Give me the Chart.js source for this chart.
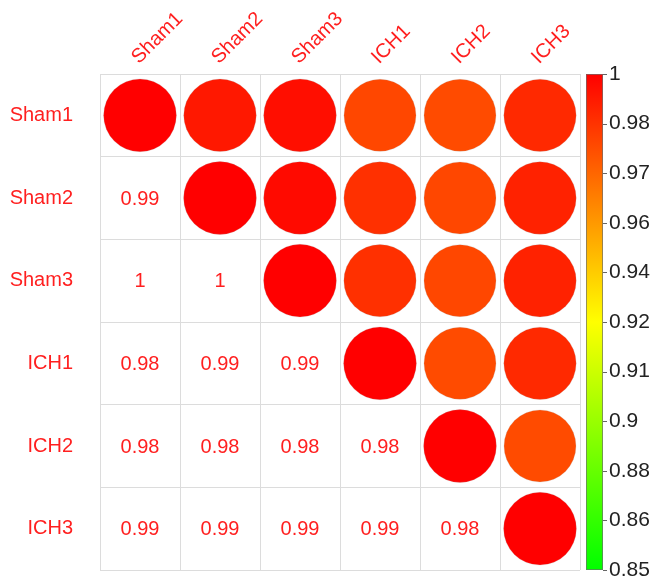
<!DOCTYPE html>
<html>
<head>
<meta charset="utf-8">
<script src="https://cdn.jsdelivr.net/npm/chart.js@4/dist/chart.umd.min.js"></script>
<style>
  html, body { margin: 0; padding: 0; background: #ffffff; }
  #wrap { width: 651px; height: 579px; }
</style>
</head>
<body>
<div id="wrap"><canvas id="c" width="651" height="579"></canvas></div>
<script>
// ---- data ----
const categories = ['Sham1', 'Sham2', 'Sham3', 'ICH1', 'ICH2', 'ICH3'];
const rSham1 = [1.000, 0.993, 0.996, 0.979, 0.978, 0.988];
const rSham2 = [0.993, 1.000, 0.997, 0.986, 0.979, 0.990];
const rSham3 = [0.996, 0.997, 1.000, 0.986, 0.979, 0.990];
const rICH1  = [0.979, 0.986, 0.986, 1.000, 0.978, 0.988];
const rICH2  = [0.978, 0.979, 0.979, 0.978, 1.000, 0.978];
const rICH3  = [0.988, 0.990, 0.990, 0.988, 0.978, 1.000];
const matrix = [rSham1, rSham2, rSham3, rICH1, rICH2, rICH3];
const colorMin = 0.85;
const colorMax = 1;
const colorbarLabels = ['0.85', '0.86', '0.88', '0.9', '0.91', '0.92', '0.94', '0.96', '0.97', '0.98', '1'];
const palette = ['#00ff00', '#ffff00', '#ff0000'];

// ---- helpers ----
function hexToRgb(h) {
  return [parseInt(h.slice(1, 3), 16), parseInt(h.slice(3, 5), 16), parseInt(h.slice(5, 7), 16)];
}
function colorFor(v) {
  let t = (v - colorMin) / (colorMax - colorMin);
  t = Math.max(0, Math.min(1, t));
  const seg = t * (palette.length - 1);
  const i = Math.min(palette.length - 2, Math.floor(seg));
  const f = seg - i;
  const a = hexToRgb(palette[i]), b = hexToRgb(palette[i + 1]);
  const c = a.map((x, k) => Math.round(x + (b[k] - x) * f));
  return 'rgb(' + c.join(',') + ')';
}
function fmt(v) { return String(Number(v.toFixed(2))); }

// upper triangle (incl. diagonal) as circles
const points = [];
for (let i = 0; i < categories.length; i++) {
  for (let j = i; j < categories.length; j++) {
    points.push({ x: categories[j], y: categories[i], v: matrix[i][j] });
  }
}

const FONT = '"Liberation Sans", Arial, sans-serif';
const TEXT_RED = '#ff1f1f';
const GRID = '#dcdcdc';

const lowerTextPlugin = {
  id: 'lowerText',
  afterDatasetsDraw(chart) {
    const ctx = chart.ctx, xs = chart.scales.x, ys = chart.scales.y;
    ctx.save();
    ctx.fillStyle = TEXT_RED;
    ctx.font = '20px ' + FONT;
    ctx.textAlign = 'center';
    ctx.textBaseline = 'middle';
    for (let i = 0; i < categories.length; i++) {
      for (let j = 0; j < i; j++) {
        ctx.fillText(fmt(matrix[i][j]), xs.getPixelForValue(j), ys.getPixelForValue(i) + 1);
      }
    }
    ctx.restore();
  }
};

const colorbarPlugin = {
  id: 'colorbar',
  afterDraw(chart) {
    const ctx = chart.ctx, cb = chart.scales.cb, area = chart.chartArea;
    const top = cb.getPixelForValue(colorbarLabels.length - 1);
    const bottom = cb.getPixelForValue(0);
    const left = area.right + 6, right = area.right + 23;
    const g = ctx.createLinearGradient(0, bottom, 0, top);
    palette.forEach((c, k) => g.addColorStop(k / (palette.length - 1), c));
    ctx.save();
    ctx.fillStyle = g;
    ctx.fillRect(left, top, right - left, bottom - top);
    ctx.strokeStyle = 'rgba(110,110,110,0.7)';
    ctx.lineWidth = 1;
    ctx.strokeRect(left + 0.5, top + 0.5, right - left - 1, bottom - top - 1);
    ctx.strokeStyle = '#666';
    ctx.beginPath();
    for (let k = 0; k < colorbarLabels.length; k++) {
      const y = Math.round(cb.getPixelForValue(k)) + 0.5;
      ctx.moveTo(right, y);
      ctx.lineTo(right + 4, y);
    }
    ctx.stroke();
    ctx.restore();
  }
};

new Chart(document.getElementById('c'), {
  type: 'scatter',
  data: {
    datasets: [{
      data: points,
      pointRadius: (c) => {
        const xs = c.chart.scales.x, ys = c.chart.scales.y;
        if (!xs || !ys || !c.raw) return 0;
        const cw = Math.abs(xs.getPixelForValue(1) - xs.getPixelForValue(0));
        const ch = Math.abs(ys.getPixelForValue(1) - ys.getPixelForValue(0));
        return Math.min(cw, ch) * 0.455 * Math.sqrt(Math.abs(c.raw.v));
      },
      pointHoverRadius: (c) => 0,
      pointBackgroundColor: (c) => c.raw ? colorFor(c.raw.v) : '#f00',
      pointBorderColor: 'rgba(170,170,170,0.35)',
      pointBorderWidth: 0.6
    }]
  },
  options: {
    responsive: false,
    animation: false,
    events: [],
    layout: { padding: { left: 0, right: 0, top: 0, bottom: 9 } },
    plugins: { legend: { display: false }, tooltip: { enabled: false } },
    scales: {
      x: {
        type: 'category',
        labels: categories,
        position: 'top',
        offset: true,
        grid: { offset: true, color: GRID, lineWidth: 1, drawTicks: false },
        border: { color: GRID },
        ticks: {
          color: TEXT_RED, font: { size: 20, family: FONT },
          minRotation: 45, maxRotation: 45, padding: 5, labelOffset: 12, autoSkip: false
        },
        afterFit(s) { s.height = 74; }
      },
      y: {
        type: 'category',
        labels: categories,
        position: 'left',
        offset: true,
        grid: { offset: true, color: GRID, lineWidth: 1, drawTicks: true, tickLength: 27, tickColor: 'rgba(0,0,0,0)' },
        border: { color: GRID },
        ticks: { color: TEXT_RED, font: { size: 20, family: FONT, lineHeight: 0.8 }, padding: 0, autoSkip: false },
        afterFit(s) { s.width = 100; }
      },
      cb: {
        type: 'linear',
        position: 'right',
        min: 0,
        max: colorbarLabels.length - 1,
        grid: { drawOnChartArea: false, drawTicks: true, tickLength: 29, tickColor: 'rgba(0,0,0,0)' },
        border: { display: false },
        ticks: {
          stepSize: 1, autoSkip: false, padding: 0,
          color: '#222', font: { size: 21, family: FONT, lineHeight: 0.8 },
          callback: (v) => colorbarLabels[v]
        },
        afterFit(s) { s.width = 71; }
      }
    }
  },
  plugins: [lowerTextPlugin, colorbarPlugin]
});
</script>
</body>
</html>
